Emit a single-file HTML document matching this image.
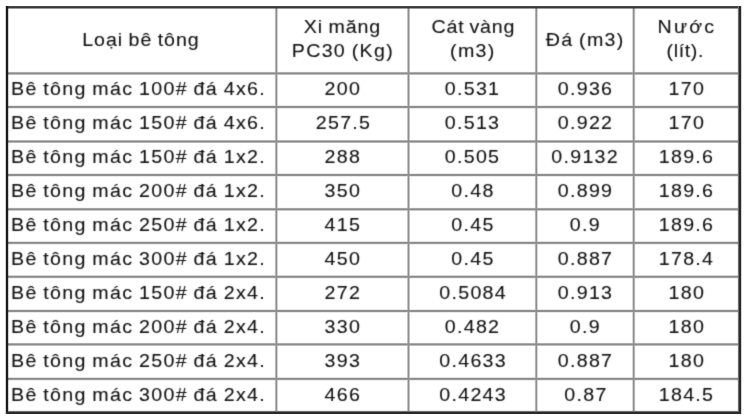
<!DOCTYPE html>
<html><head><meta charset="utf-8"><style>
html,body{margin:0;padding:0;background:#fff;}
body{width:748px;height:416px;position:relative;overflow:hidden;font-family:"Liberation Sans",Arial,sans-serif;color:#111;}
#w{position:absolute;left:0;top:0;width:748px;height:416px;background:#fff;filter:url(#fb);}
#g{position:absolute;left:0;top:0;}
.c{position:absolute;white-space:nowrap;font-size:18px;line-height:20px;-webkit-text-stroke:0.1px #111;}
.c span{display:inline-block;transform:scaleX(1.09);letter-spacing:1.2px;word-spacing:-1px;margin-right:-1.2px}
.ctr{text-align:center;}
.ctr span{transform-origin:50% 50%;}
.lft span{transform-origin:0 50%;}
</style></head><body>
<svg width="0" height="0" style="position:absolute"><filter id="fb" x="0" y="0" width="100%" height="100%" color-interpolation-filters="sRGB"><feConvolveMatrix order="3" kernelMatrix="0.02 0.1 0.02 0.1 0.52 0.1 0.02 0.1 0.02" edgeMode="duplicate"/></filter></svg>
<div id="w">
<div class="c ctr" style="left:6.5px;width:268.4px;top:30.0px"><span style="letter-spacing:0.90px;margin-right:-0.90px">Loại bê tông</span></div>
<div class="c ctr" style="left:276.4px;width:132.1px;top:16.6px"><span style="letter-spacing:0.85px;margin-right:-0.85px">Xi măng</span></div>
<div class="c ctr" style="left:276.4px;width:132.1px;top:40.5px"><span style="letter-spacing:1.20px;margin-right:-1.20px">PC30 (Kg)</span></div>
<div class="c ctr" style="left:409.5px;width:127.8px;top:16.6px"><span style="letter-spacing:0.70px;margin-right:-0.70px">Cát vàng</span></div>
<div class="c ctr" style="left:408.5px;width:127.8px;top:40.5px"><span style="letter-spacing:1.20px;margin-right:-1.20px">(m3)</span></div>
<div class="c ctr" style="left:536.3px;width:97.4px;top:30.0px"><span style="letter-spacing:1.20px;margin-right:-1.20px">Đá (m3)</span></div>
<div class="c ctr" style="left:633.7px;width:105.3px;top:16.6px"><span style="letter-spacing:2.00px;margin-right:-2.00px">Nước</span></div>
<div class="c ctr" style="left:632.7px;width:105.3px;top:40.5px"><span style="letter-spacing:0.60px;margin-right:-0.60px">(lít).</span></div>
<div class="c lft" style="left:11px;top:79.2px"><span>Bê tông mác 100# đá 4x6.</span></div>
<div class="c ctr" style="left:276.4px;width:132.1px;top:79.2px"><span>200</span></div>
<div class="c ctr" style="left:408.5px;width:127.8px;top:79.2px"><span>0.531</span></div>
<div class="c ctr" style="left:536.3px;width:97.4px;top:79.2px"><span>0.936</span></div>
<div class="c ctr" style="left:633.7px;width:105.3px;top:79.2px"><span>170</span></div>
<div class="c lft" style="left:11px;top:113.2px"><span>Bê tông mác 150# đá 4x6.</span></div>
<div class="c ctr" style="left:276.4px;width:132.1px;top:113.2px"><span>257.5</span></div>
<div class="c ctr" style="left:408.5px;width:127.8px;top:113.2px"><span>0.513</span></div>
<div class="c ctr" style="left:536.3px;width:97.4px;top:113.2px"><span>0.922</span></div>
<div class="c ctr" style="left:633.7px;width:105.3px;top:113.2px"><span>170</span></div>
<div class="c lft" style="left:11px;top:147.1px"><span>Bê tông mác 150# đá 1x2.</span></div>
<div class="c ctr" style="left:276.4px;width:132.1px;top:147.1px"><span>288</span></div>
<div class="c ctr" style="left:408.5px;width:127.8px;top:147.1px"><span>0.505</span></div>
<div class="c ctr" style="left:536.3px;width:97.4px;top:147.1px"><span>0.9132</span></div>
<div class="c ctr" style="left:633.7px;width:105.3px;top:147.1px"><span>189.6</span></div>
<div class="c lft" style="left:11px;top:181.1px"><span>Bê tông mác 200# đá 1x2.</span></div>
<div class="c ctr" style="left:276.4px;width:132.1px;top:181.1px"><span>350</span></div>
<div class="c ctr" style="left:408.5px;width:127.8px;top:181.1px"><span>0.48</span></div>
<div class="c ctr" style="left:536.3px;width:97.4px;top:181.1px"><span>0.899</span></div>
<div class="c ctr" style="left:633.7px;width:105.3px;top:181.1px"><span>189.6</span></div>
<div class="c lft" style="left:11px;top:215.1px"><span>Bê tông mác 250# đá 1x2.</span></div>
<div class="c ctr" style="left:276.4px;width:132.1px;top:215.1px"><span>415</span></div>
<div class="c ctr" style="left:408.5px;width:127.8px;top:215.1px"><span>0.45</span></div>
<div class="c ctr" style="left:536.3px;width:97.4px;top:215.1px"><span>0.9</span></div>
<div class="c ctr" style="left:633.7px;width:105.3px;top:215.1px"><span>189.6</span></div>
<div class="c lft" style="left:11px;top:249.1px"><span>Bê tông mác 300# đá 1x2.</span></div>
<div class="c ctr" style="left:276.4px;width:132.1px;top:249.1px"><span>450</span></div>
<div class="c ctr" style="left:408.5px;width:127.8px;top:249.1px"><span>0.45</span></div>
<div class="c ctr" style="left:536.3px;width:97.4px;top:249.1px"><span>0.887</span></div>
<div class="c ctr" style="left:633.7px;width:105.3px;top:249.1px"><span>178.4</span></div>
<div class="c lft" style="left:11px;top:283.0px"><span>Bê tông mác 150# đá 2x4.</span></div>
<div class="c ctr" style="left:276.4px;width:132.1px;top:283.0px"><span>272</span></div>
<div class="c ctr" style="left:408.5px;width:127.8px;top:283.0px"><span>0.5084</span></div>
<div class="c ctr" style="left:536.3px;width:97.4px;top:283.0px"><span>0.913</span></div>
<div class="c ctr" style="left:633.7px;width:105.3px;top:283.0px"><span>180</span></div>
<div class="c lft" style="left:11px;top:317.0px"><span>Bê tông mác 200# đá 2x4.</span></div>
<div class="c ctr" style="left:276.4px;width:132.1px;top:317.0px"><span>330</span></div>
<div class="c ctr" style="left:408.5px;width:127.8px;top:317.0px"><span>0.482</span></div>
<div class="c ctr" style="left:536.3px;width:97.4px;top:317.0px"><span>0.9</span></div>
<div class="c ctr" style="left:633.7px;width:105.3px;top:317.0px"><span>180</span></div>
<div class="c lft" style="left:11px;top:351.0px"><span>Bê tông mác 250# đá 2x4.</span></div>
<div class="c ctr" style="left:276.4px;width:132.1px;top:351.0px"><span>393</span></div>
<div class="c ctr" style="left:408.5px;width:127.8px;top:351.0px"><span>0.4633</span></div>
<div class="c ctr" style="left:536.3px;width:97.4px;top:351.0px"><span>0.887</span></div>
<div class="c ctr" style="left:633.7px;width:105.3px;top:351.0px"><span>180</span></div>
<div class="c lft" style="left:11px;top:384.9px"><span>Bê tông mác 300# đá 2x4.</span></div>
<div class="c ctr" style="left:276.4px;width:132.1px;top:384.9px"><span>466</span></div>
<div class="c ctr" style="left:408.5px;width:127.8px;top:384.9px"><span>0.4243</span></div>
<div class="c ctr" style="left:536.3px;width:97.4px;top:384.9px"><span>0.87</span></div>
<div class="c ctr" style="left:633.7px;width:105.3px;top:384.9px"><span>184.5</span></div>
</div>
<svg id="g" width="748" height="416" viewBox="0 0 748 416">
<rect x="8" y="71.90" width="731" height="3" fill="#d4d4d4"/>
<rect x="8" y="105.50" width="731" height="3" fill="#d4d4d4"/>
<rect x="8" y="140.00" width="731" height="3" fill="#d4d4d4"/>
<rect x="8" y="173.50" width="731" height="3" fill="#d4d4d4"/>
<rect x="8" y="207.80" width="731" height="3" fill="#d4d4d4"/>
<rect x="8" y="241.40" width="731" height="3" fill="#d4d4d4"/>
<rect x="8" y="275.30" width="731" height="3" fill="#d4d4d4"/>
<rect x="8" y="309.50" width="731" height="3" fill="#d4d4d4"/>
<rect x="8" y="342.90" width="731" height="3" fill="#d4d4d4"/>
<rect x="8" y="377.40" width="731" height="3" fill="#d4d4d4"/>
<rect x="274.85" y="8" width="3" height="404" fill="#d4d4d4"/>
<rect x="407.00" y="8" width="3" height="404" fill="#d4d4d4"/>
<rect x="534.80" y="8" width="3" height="404" fill="#d4d4d4"/>
<rect x="632.20" y="8" width="3" height="404" fill="#d4d4d4"/>
<rect x="8" y="72.45" width="731" height="1.9" fill="#8c8c8c"/>
<rect x="8" y="106.05" width="731" height="1.9" fill="#8c8c8c"/>
<rect x="8" y="140.55" width="731" height="1.9" fill="#8c8c8c"/>
<rect x="8" y="174.05" width="731" height="1.9" fill="#8c8c8c"/>
<rect x="8" y="208.35" width="731" height="1.9" fill="#8c8c8c"/>
<rect x="8" y="241.95" width="731" height="1.9" fill="#8c8c8c"/>
<rect x="8" y="275.85" width="731" height="1.9" fill="#8c8c8c"/>
<rect x="8" y="310.05" width="731" height="1.9" fill="#8c8c8c"/>
<rect x="8" y="343.45" width="731" height="1.9" fill="#8c8c8c"/>
<rect x="8" y="377.95" width="731" height="1.9" fill="#8c8c8c"/>
<rect x="275.60" y="8" width="1.5" height="404" fill="#8e8e8e"/>
<rect x="407.75" y="8" width="1.5" height="404" fill="#8e8e8e"/>
<rect x="535.55" y="8" width="1.5" height="404" fill="#8e8e8e"/>
<rect x="632.95" y="8" width="1.5" height="404" fill="#8e8e8e"/>
<rect x="6" y="6.1" width="735" height="2.4" fill="#383838"/>
<rect x="5.8" y="6" width="2.4" height="408" fill="#1c1c1c"/>
<rect x="737.9" y="6" width="1.1" height="408" fill="#707070"/>
<rect x="739" y="6" width="2.2" height="408" fill="#2a2a2a"/>
<rect x="8" y="410.9" width="730" height="1.1" fill="#707070"/>
<rect x="6" y="412" width="735" height="2" fill="#2a2a2a"/>
</svg>
</body></html>
